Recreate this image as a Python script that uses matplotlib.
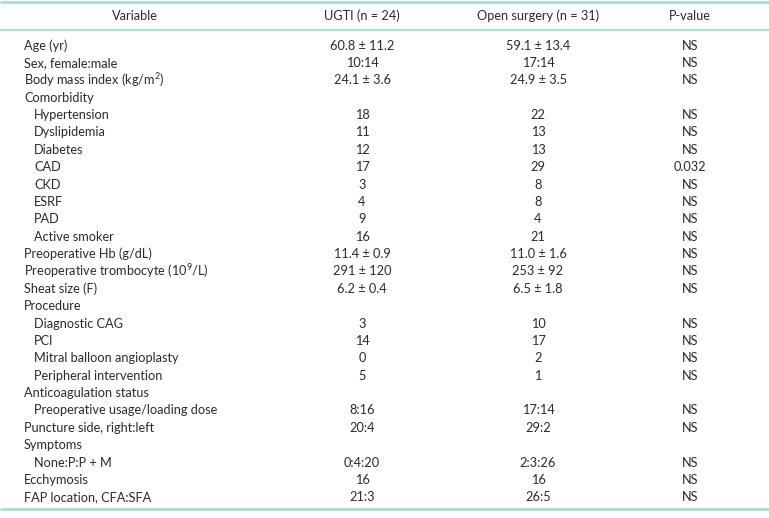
import matplotlib
matplotlib.use("Agg")
import matplotlib.pyplot as plt

plt.rcParams['font.family'] = ['Lato', 'DejaVu Sans']
plt.rcParams['mathtext.fontset'] = 'custom'
plt.rcParams['mathtext.rm'] = 'Lato'
plt.rcParams['mathtext.it'] = 'Lato:italic'

headers = ["Variable", "UGTI (n = 24)", "Open surgery (n = 31)", "P-value"]
variables = ["Age (yr)", "Sex, female:male", "Body mass index (kg/m$^2$)", "Comorbidity",
             "Hypertension", "Dyslipidemia", "Diabetes", "CAD", "CKD", "ESRF", "PAD",
             "Active smoker", "Preoperative Hb (g/dL)", "Preoperative trombocyte (10$^9$/L)",
             "Sheat size (F)", "Procedure", "Diagnostic CAG", "PCI", "Mitral balloon angioplasty",
             "Peripheral intervention", "Anticoagulation status", "Preoperative usage/loading dose",
             "Puncture side, right:left", "Symptoms", "None:P:P + M", "Ecchymosis",
             "FAP location, CFA:SFA"]
indented = [False, False, False, False, True, True, True, True, True, True, True, True,
            False, False, False, False, True, True, True, True, False, True, False, False,
            True, False, False]
ugti = ["60.8 ± 11.2", "10:14", "24.1 ± 3.6", "", "18", "11", "12", "17", "3", "4", "9", "16",
        "11.4 ± 0.9", "291 ± 120", "6.2 ± 0.4", "", "3", "14", "0", "5", "", "8:16", "20:4", "",
        "0:4:20", "16", "21:3"]
open_surgery = ["59.1 ± 13.4", "17:14", "24.9 ± 3.5", "", "22", "13", "13", "29", "8", "8", "4",
                "21", "11.0 ± 1.6", "253 ± 92", "6.5 ± 1.8", "", "10", "17", "2", "1", "", "17:14",
                "29:2", "", "2:3:26", "16", "26:5"]
p_values = ["NS", "NS", "NS", "", "NS", "NS", "NS", "0.032", "NS", "NS", "NS", "NS", "NS", "NS",
            "NS", "", "NS", "NS", "NS", "NS", "", "NS", "NS", "", "NS", "NS", "NS"]

W, H = 769, 518
fig = plt.figure(figsize=(W / 100, H / 100), dpi=100)
ax = fig.add_axes([0, 0, 1, 1])
ax.set_xlim(0, W)
ax.set_ylim(H, 0)
ax.axis('off')

line_color = '#b3ddd3'
ax.plot([0, W], [1.5, 1.5], color=line_color, lw=2.2, solid_capstyle='butt')
ax.plot([0, W], [30, 30], color=line_color, lw=1.5, solid_capstyle='butt')
ax.plot([0, W], [509, 509], color=line_color, lw=2.2, solid_capstyle='butt')

fs = 9.2
tc = '#2b2b2b'
col_x = [135, 362, 538, 690]
for x, h in zip(col_x, headers):
    ax.text(x, 16, h, ha='center', va='center', fontsize=fs, color=tc)

y0, dy = 45.5, 17.38
for i, (v, ind, a, b, p) in enumerate(zip(variables, indented, ugti, open_surgery, p_values)):
    y = y0 + i * dy
    ax.text(34 if ind else 24, y, v, ha='left', va='center', fontsize=fs, color=tc)
    ax.text(col_x[1], y, a, ha='center', va='center', fontsize=fs, color=tc)
    ax.text(col_x[2], y, b, ha='center', va='center', fontsize=fs, color=tc)
    ax.text(col_x[3], y, p, ha='center', va='center', fontsize=fs, color=tc)

fig.savefig("out.png", dpi=100)
